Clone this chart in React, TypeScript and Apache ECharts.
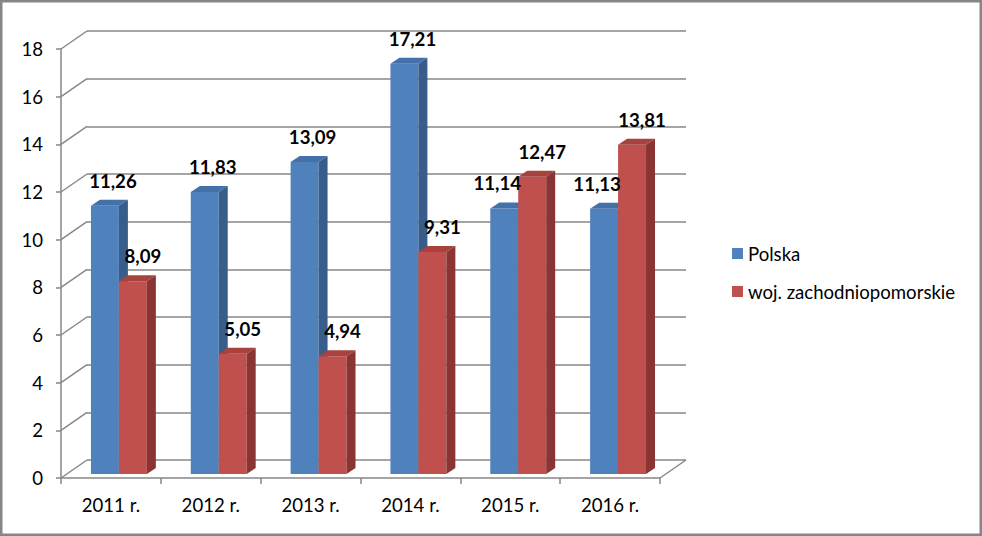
import React, { useEffect, useRef } from "react";
import * as echarts from "echarts";

const categories = ["2011 r.", "2012 r.", "2013 r.", "2014 r.", "2015 r.", "2016 r."];
const polska = [11.26, 11.83, 13.09, 17.21, 11.14, 11.13];
const zachodniopomorskie = [8.09, 5.05, 4.94, 9.31, 12.47, 13.81];
const seriesNames = ["Polska", "woj. zachodniopomorskie"];
const yTicks = [0, 2, 4, 6, 8, 10, 12, 14, 16, 18];

const FONT = "Lato, 'Open Sans', sans-serif";
const FS = 18.6;
const GRID_COLOR = "#878787";
const DEPTH_X = 26;
const DEPTH_Y = -18;

const colors = {
  blue: { front: "#4F81BD", top: "#4471A8", side: "#385D8A" },
  red: { front: "#C0504D", top: "#A7423F", side: "#8A3533" },
};

const fmt = (v: number) => v.toFixed(2).replace(".", ",");

function makeBarRenderer(isBlue: boolean, other: number[]) {
  const c = isBlue ? colors.blue : colors.red;
  return (params: any, api: any) => {
    const i = api.value(0);
    const v = api.value(1);
    const band = api.size([1, 0])[0];
    const base = api.coord([i, 0]);
    const top = api.coord([i, v]);
    const w = band * 0.28;
    const x1 = base[0] + (isBlue ? -0.2 * band : 0.08 * band);
    const x2 = x1 + w;
    const yb = base[1] - 4;
    const yt = top[1] - 4;
    const dx = 9;
    const dy = -6;
    let ldx = 10;
    if (isBlue) ldx = other[i] > v ? -7 : 8;
    const z2 = isBlue ? 1 : 2;
    return {
      type: "group",
      children: [
        {
          type: "rect",
          z2,
          shape: { x: x1, y: yt, width: w, height: yb - yt },
          style: { fill: c.front },
        },
        {
          type: "polygon",
          z2,
          shape: { points: [[x1, yt], [x2, yt], [x2 + dx, yt + dy], [x1 + dx, yt + dy]] },
          style: { fill: c.top },
        },
        {
          type: "polygon",
          z2,
          shape: { points: [[x2, yt], [x2 + dx, yt + dy], [x2 + dx, yb + dy], [x2, yb]] },
          style: { fill: c.side },
        },
        {
          type: "text",
          z2: 10,
          x: (x1 + x2) / 2 + ldx,
          y: yt - 25,
          style: {
            text: fmt(v),
            fill: "#000",
            fontSize: FS,
            fontWeight: "bold",
            fontFamily: FONT,
            align: "center",
            verticalAlign: "middle",
            textAlign: "center",
            textVerticalAlign: "middle",
          },
        },
      ],
    };
  };
}

export default function App() {
  const ref = useRef<HTMLDivElement>(null);
  useEffect(() => {
    if (!ref.current) return;
    const chart = echarts.init(ref.current, null, { renderer: "svg" });
    const option: any = {
      animation: false,
      backgroundColor: "#fff",
      graphic: [
        {
          type: "rect",
          shape: { x: 1.25, y: 1.25, width: 979.5, height: 533.5 },
          style: { fill: "none", stroke: "#868686", lineWidth: 2.5 },
          z: 100,
        },
      ],
      legend: {
        data: seriesNames,
        orient: "vertical",
        left: 727,
        top: 238,
        itemWidth: 11,
        itemHeight: 11,
        itemGap: 17,
        icon: "rect",
        selectedMode: false,
        textStyle: { fontSize: FS, fontFamily: FONT, color: "#000", lineHeight: 21 },
      },
      grid: [
        { left: 61, top: 49, width: 599, height: 429, containLabel: false },
        { left: 61 + DEPTH_X, top: 49 + DEPTH_Y, width: 599, height: 429, containLabel: false },
      ],
      xAxis: [
        {
          type: "category",
          gridIndex: 0,
          data: categories,
          axisLine: { show: true, lineStyle: { color: GRID_COLOR, width: 1.5 } },
          axisTick: { show: true, length: 6, lineStyle: { color: GRID_COLOR, width: 1.5 } },
          axisLabel: { color: "#000", fontSize: FS, fontFamily: FONT, margin: 17 },
          splitLine: { show: false },
        },
        {
          type: "category",
          gridIndex: 1,
          data: categories,
          show: false,
        },
      ],
      yAxis: [
        {
          type: "value",
          gridIndex: 0,
          min: 0,
          max: 18,
          interval: 2,
          axisLine: { show: true, lineStyle: { color: GRID_COLOR, width: 1.5 } },
          axisTick: { show: true, length: 5, lineStyle: { color: GRID_COLOR, width: 1.5 } },
          axisLabel: { color: "#000", fontSize: FS, fontFamily: FONT, margin: 18 },
          splitLine: { show: false },
        },
        {
          type: "value",
          gridIndex: 1,
          min: 0,
          max: 18,
          interval: 2,
          axisLine: { show: false },
          axisTick: { show: false },
          axisLabel: { show: false },
          splitLine: { show: true, lineStyle: { color: GRID_COLOR, width: 1.5 } },
        },
      ],
      series: [
        {
          type: "custom",
          name: "walls",
          xAxisIndex: 0,
          yAxisIndex: 0,
          z: 1,
          silent: true,
          data: yTicks.map((t) => [0, t]),
          renderItem: (params: any, api: any) => {
            const cs = params.coordSys;
            const t = api.value(1);
            const p = api.coord([0, t]);
            const lineStyle = { stroke: GRID_COLOR, lineWidth: 1.5, fill: "none" };
            const children: any[] = [
              {
                type: "line",
                shape: { x1: cs.x, y1: p[1], x2: cs.x + DEPTH_X, y2: p[1] + DEPTH_Y },
                style: lineStyle,
              },
            ];
            if (t === 0) {
              children.push({
                type: "line",
                shape: {
                  x1: cs.x + cs.width,
                  y1: p[1],
                  x2: cs.x + cs.width + DEPTH_X,
                  y2: p[1] + DEPTH_Y,
                },
                style: lineStyle,
              });
            }
            return { type: "group", children };
          },
        },
        {
          type: "custom",
          name: seriesNames[0],
          xAxisIndex: 0,
          yAxisIndex: 0,
          z: 3,
          itemStyle: { color: colors.blue.front },
          data: polska.map((v, i) => [i, v]),
          renderItem: makeBarRenderer(true, zachodniopomorskie),
        },
        {
          type: "custom",
          name: seriesNames[1],
          xAxisIndex: 0,
          yAxisIndex: 0,
          z: 3,
          itemStyle: { color: colors.red.front },
          data: zachodniopomorskie.map((v, i) => [i, v]),
          renderItem: makeBarRenderer(false, polska),
        },
      ],
    };
    chart.setOption(option);
    return () => chart.dispose();
  }, []);
  return (
    <div
      ref={ref}
      style={{ position: "fixed", left: 0, top: 0, width: 982, height: 536, background: "#fff" }}
    />
  );
}
